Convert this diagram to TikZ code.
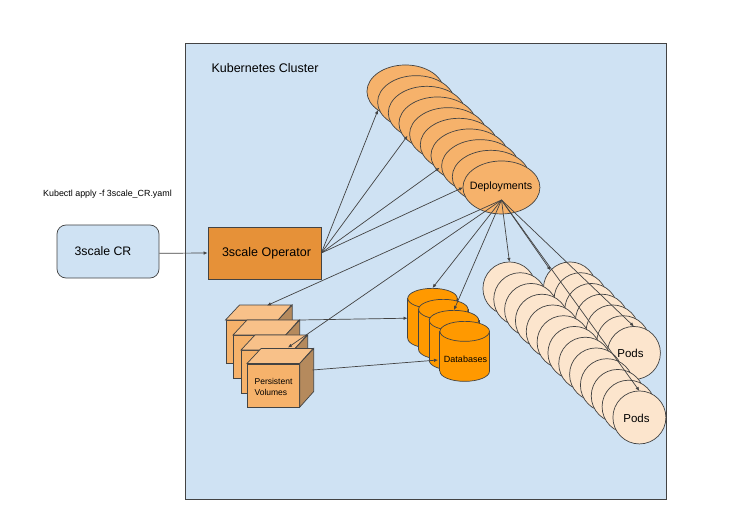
\documentclass[tikz,border=0pt]{standalone}
\usepackage{fontspec}
\usepackage{tikz-network}
\usetikzlibrary{shapes.geometric,arrows.meta}
\setmainfont{Liberation Sans}
\definecolor{clusterblue}{HTML}{CFE2F3}
\definecolor{opfill}{HTML}{E69138}
\definecolor{depfill}{HTML}{F6B26B}
\definecolor{podfill}{HTML}{FCE5CD}
\definecolor{dbfill}{HTML}{FF9900}
\definecolor{linegray}{HTML}{434343}
\tikzset{
  outline/.style={draw=linegray,line width=0.7pt},
  boxnode/.style={outline,shape=rectangle,inner sep=0pt,minimum width=#1},
  depnode/.style={outline,minimum width=77pt,minimum height=53pt,inner sep=0pt},
  podnode/.style={outline,minimum size=53pt,inner sep=0pt},
  dbend/.style={shape=ellipse,outline,fill=dbfill,minimum width=49.5pt,minimum height=20pt,inner sep=0pt},
  dbside/.style={shape=rectangle,fill=dbfill,minimum width=49.5pt,minimum height=40pt,inner sep=0pt},
  link/.style={draw=linegray,line width=0.7pt,-{Latex[length=4pt,width=3.5pt]}}
}
\begin{document}
\begin{tikzpicture}[x=1pt,y=-1pt]
  \useasboundingbox (0,0) rectangle (743,510);
  \node[boxnode=481pt,minimum height=456pt,fill=clusterblue] (cluster) at (425.5,271) {};
  \node[anchor=west,font=\fontsize{12.5}{14}\selectfont] (clustertext) at (208,68) {Kubernetes Cluster};
  \node[font=\fontsize{8.9}{10}\selectfont] (applytext) at (107.5,194) {Kubectl apply -f 3scale\_CR.yaml};
  \node[boxnode=102pt,minimum height=53pt,fill=clusterblue,rounded corners=9pt,font=\fontsize{12.3}{14}\selectfont] (cr) at (108,251.5) {\hspace{-10pt}\raisebox{-2pt}{3scale CR}};
  \node[boxnode=113pt,minimum height=52pt,fill=opfill,font=\fontsize{12.5}{14}\selectfont] (operator) at (264.5,253) {\hspace{4pt}3scale Operator};

  \foreach \i in {1,...,10} {
    \pgfmathsetmacro\px{(405.5+10.667*(\i-1))*0.0351459}
    \pgfmathsetmacro\py{-(91.5+10.667*(\i-1))*0.0351459}
    \Vertex[x=\px,y=\py,shape=ellipse,color=depfill,NoLabel,style={depnode}]{dep\i}
  }
  \node[font=\fontsize{10.7}{12}\selectfont] (deptext) at (501,187) {Deployments};
  \coordinate (depfan) at (501.5,200);

  \foreach \i in {1,...,7} {
    \pgfmathsetmacro\px{(570+10.667*(\i-1))*0.0351459}
    \pgfmathsetmacro\py{-(288.5+10.75*(\i-1))*0.0351459}
    \Vertex[x=\px,y=\py,color=podfill,NoLabel,style={podnode}]{podb\i}
  }
  \foreach \i in {1,...,13} {
    \pgfmathsetmacro\px{(509.5+10.833*(\i-1))*0.0351459}
    \pgfmathsetmacro\py{-(288.5+10.75*(\i-1))*0.0351459}
    \Vertex[x=\px,y=\py,color=podfill,NoLabel,style={podnode}]{poda\i}
  }
  \node[font=\fontsize{11.5}{13}\selectfont] (podbtext) at (630.5,353) {Pods};
  \node[font=\fontsize{11.5}{13}\selectfont] (podatext) at (636.5,418) {Pods};

  \foreach \i/\a/\b in {1/225.5/320,2/233/335,3/241/350,4/247/363.5} {
    \node[boxnode=52pt,minimum height=43pt,fill=depfill,anchor=north west] (vol\i) at (\a,\b) {};
    \fill[depfill!80!white,outline] (vol\i.north west) -- ++(14,-15) -- ++(52,0) -- (vol\i.north east) -- cycle;
    \fill[depfill!70!black!90!white,outline] (vol\i.north east) -- ++(14,-15) coordinate (volb\i) -- ++(0,43) -- (vol\i.south east) -- cycle;
  }
  \node[font=\fontsize{8.5}{11}\selectfont,align=left] (voltext) at (273.5,386.5) {Persistent\\Volumes};
  \coordinate (volin1) at (267,305.5);
  \coordinate (volin3) at (288,347.5);
  \coordinate (volout4) at (312.5,370);

  \foreach \i/\a/\b in {1/432.5/288,2/443.3/299,3/454/310,4/464.7/321} {
    \node[dbend,anchor=north] (dbbot\i) at (\a,\b+40) {};
    \node[dbside,anchor=north] (dbbody\i) at (\a,\b+10) {};
    \draw[outline] (dbbody\i.north west) -- (dbbody\i.south west);
    \draw[outline] (dbbody\i.north east) -- (dbbody\i.south east);
    \node[dbend,anchor=north] (db\i) at (\a,\b) {};
  }
  \node[font=\fontsize{9}{11}\selectfont] (dbtext) at (465.5,359) {Databases};
  \coordinate (dbin3) at (438,360);

  \draw[link] (cr.-2) -- (operator.west);
  \draw[link] (operator.east) -- (dep1.214);
  \draw[link] (operator.east) -- (dep3.230);
  \draw[link] (operator.east) -- (dep6.230);
  \draw[link] (operator.east) -- (dep10.west);
  \draw[link] (depfan) -- (volin1);
  \draw[link] (depfan) -- (volin3);
  \draw[link] (depfan) -- (db1.north);
  \draw[link] (depfan) -- (db3.north);
  \draw[link] (depfan) -- (poda1.north);
  \draw[link] (depfan) -- (podb1.137);
  \draw[link] (depfan) -- (podb7.north);
  \draw[link] (depfan) -- (poda13.north);
  \draw[link] (volb2) -- (dbbody1.west);
  \draw[link] (volout4) -- (dbin3);
\end{tikzpicture}
\end{document}
